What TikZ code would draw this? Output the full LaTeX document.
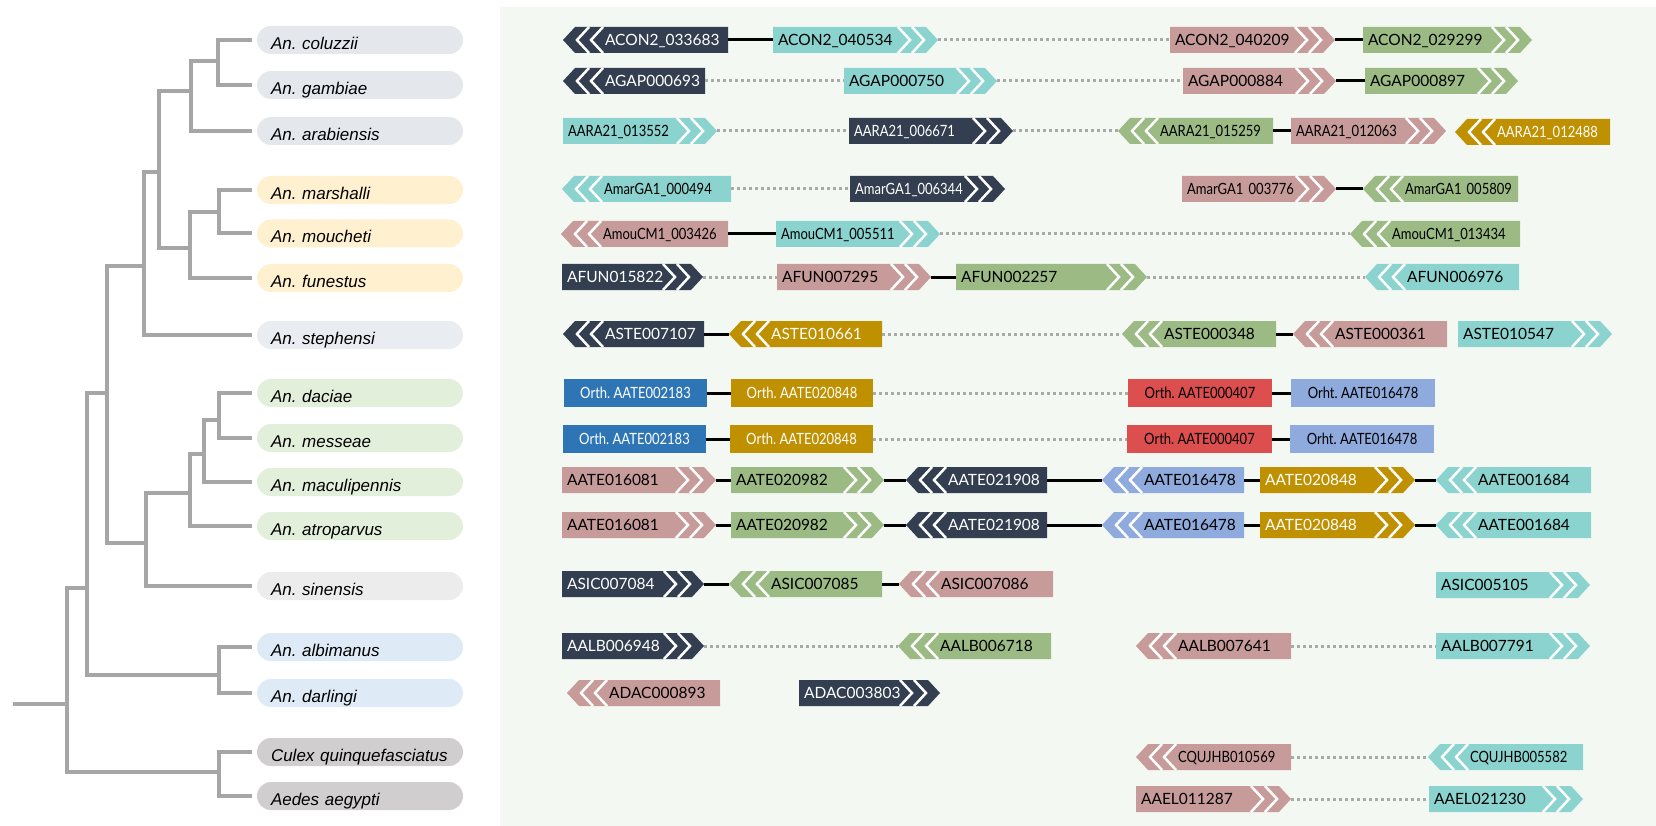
\documentclass[tikz,border=0pt]{standalone}
\usepackage{fontspec}
\setmainfont{Liberation Sans}
\newfontfamily\genefont{Lato}
\newfontfamily\genetight{Lato}[FakeStretch=0.84]
\definecolor{slate}{RGB}{51,63,80}
\definecolor{aqua}{RGB}{139,211,207}
\definecolor{rose}{RGB}{200,155,155}
\definecolor{sage}{RGB}{156,187,132}
\definecolor{mustard}{RGB}{191,144,0}
\definecolor{cobalt}{RGB}{46,117,182}
\definecolor{scarlet}{RGB}{221,78,78}
\definecolor{lilac}{RGB}{143,170,220}
\definecolor{treegray}{RGB}{166,166,166}
\definecolor{dotgray}{RGB}{170,170,170}
\definecolor{panel}{RGB}{244,248,243}
\definecolor{gambgrp}{RGB}{228,232,237}
\definecolor{stepgrp}{RGB}{233,236,241}
\definecolor{funegrp}{RGB}{255,241,207}
\definecolor{macugrp}{RGB}{226,239,218}
\definecolor{sinegrp}{RGB}{236,236,236}
\definecolor{nyssgrp}{RGB}{222,234,246}
\definecolor{culigrp}{RGB}{208,206,207}
\tikzset{
  branch/.style={draw=treegray,line width=4pt},
  tie/.style={draw=black,line width=3pt},
  gap/.style={draw=dotgray,line width=3pt,dash pattern=on 3pt off 3pt},
  chev/.style={draw=white,line width=2.5pt},
  genelab/.style={inner xsep=5pt,inner ysep=0pt,minimum height=26pt,
    text height=11.4pt,text depth=0pt,align=left,
    font=\genefont\fontsize{15.5}{15.5}\selectfont},
  tight/.style={font=\genetight\fontsize{15.5}{15.5}\selectfont},
  on slate/.style={text=white},
  on mustard/.style={text=white},
  on cobalt/.style={text=white},
  on aqua/.style={text=black},
  on rose/.style={text=black},
  on sage/.style={text=black},
  on scarlet/.style={text=black},
  on lilac/.style={text=black},
  species/.style={fill=#1,rounded corners=14pt,minimum height=28pt,
    text width=178pt,inner xsep=14pt,inner ysep=0pt,text height=19pt,
    text depth=0pt,align=left,font=\itshape\fontsize{17}{17}\selectfont},
}
% gene pointing right: [opts]{name}{x0}{x1}{y}{colour}{id}
\newcommand{\fgene}[7][]{%
  \fill[#6] (#3,#5-13) -- (#4-12,#5-13) -- (#4,#5) -- (#4-12,#5+13) -- (#3,#5+13) -- cycle;
  \draw[chev] (#4-26,#5-13) -- (#4-14,#5) -- (#4-26,#5+13);
  \draw[chev] (#4-40,#5-13) -- (#4-28,#5) -- (#4-40,#5+13);
  \pgfmathsetmacro\gw{#4-#3}\pgfmathsetmacro\tw{#4-#3-10}
  \node[genelab,on #6,minimum width=\gw pt,text width=\tw pt,#1] (#2) at ({(#3+#4)/2},#5) {#7};
}
% gene pointing left
\newcommand{\rgene}[7][]{%
  \fill[#6] (#4,#5-13) -- (#3+12,#5-13) -- (#3,#5) -- (#3+12,#5+13) -- (#4,#5+13) -- cycle;
  \draw[chev] (#3+26,#5-13) -- (#3+14,#5) -- (#3+26,#5+13);
  \draw[chev] (#3+40,#5-13) -- (#3+28,#5) -- (#3+40,#5+13);
  \pgfmathsetmacro\gw{#4-#3}\pgfmathsetmacro\tw{#4-#3-10}
  \node[genelab,on #6,minimum width=\gw pt,text width=\tw pt,#1] (#2) at ({(#3+#4)/2},#5) {\hspace*{37pt}#7};
}
% orthologue box
\newcommand{\bgene}[6]{%
  \pgfmathsetmacro\gw{#3-#2}
  \node[genelab,tight,fill=#5,on #5,minimum width=\gw pt,minimum height=28pt,align=center] (#1) at ({(#2+#3)/2},#4) {#6};
}
\frenchspacing

\begin{document}
\begin{tikzpicture}[x=1pt,y=-1pt]
  \useasboundingbox (0,0) rectangle (1656,826);
  \fill[panel] (500,7) rectangle (1656,826);

  % species
  \node[species=gambgrp] (coluzzii) at (360,40) {An. coluzzii};
  \node[species=gambgrp] (gambiae) at (360,85) {An. gambiae};
  \node[species=gambgrp] (arabiensis) at (360,131) {An. arabiensis};
  \node[species=funegrp] (marshalli) at (360,190) {An. marshalli};
  \node[species=funegrp] (moucheti) at (360,233.5) {An. moucheti};
  \node[species=funegrp] (funestus) at (360,278) {An. funestus};
  \node[species=stepgrp] (stephensi) at (360,335) {An. stephensi};
  \node[species=macugrp] (daciae) at (360,393) {An. daciae};
  \node[species=macugrp] (messeae) at (360,438) {An. messeae};
  \node[species=macugrp] (maculipennis) at (360,482) {An. maculipennis};
  \node[species=macugrp] (atroparvus) at (360,526) {An. atroparvus};
  \node[species=sinegrp] (sinensis) at (360,586) {An. sinensis};
  \node[species=nyssgrp] (albimanus) at (360,647) {An. albimanus};
  \node[species=nyssgrp] (darlingi) at (360,693) {An. darlingi};
  \node[species=culigrp] (culex) at (360,752) {Culex quinquefasciatus};
  \node[species=culigrp] (aedes) at (360,796) {Aedes aegypti};

  % tree
  \coordinate (nCG) at (218,61);
  \coordinate (nGam) at (191,91);
  \coordinate (nMM) at (219,212);
  \coordinate (nFun) at (190,248);
  \coordinate (nGF) at (159,172);
  \coordinate (nStep) at (144,266);
  \coordinate (nDM) at (219,420);
  \coordinate (nMac1) at (204,454);
  \coordinate (nMac2) at (190,493);
  \coordinate (nSin) at (146,543);
  \coordinate (nCel) at (107,393);
  \coordinate (nNyss) at (219,675);
  \coordinate (nAnoph) at (87,588);
  \coordinate (nCul) at (219,772);
  \coordinate (root) at (67,704);
  \coordinate (stem) at (13,704);
  \draw[branch] (nCG) |- ([xshift=-5pt]coluzzii.west) (nCG) |- ([xshift=-5pt]gambiae.west);
  \draw[branch] (nGam) |- (nCG) (nGam) |- ([xshift=-5pt]arabiensis.west);
  \draw[branch] (nMM) |- ([xshift=-5pt]marshalli.west) (nMM) |- ([xshift=-5pt]moucheti.west);
  \draw[branch] (nFun) |- (nMM) (nFun) |- ([xshift=-5pt]funestus.west);
  \draw[branch] (nGF) |- (nGam) (nGF) |- (nFun);
  \draw[branch] (nStep) |- (nGF) (nStep) |- ([xshift=-5pt]stephensi.west);
  \draw[branch] (nDM) |- ([xshift=-5pt]daciae.west) (nDM) |- ([xshift=-5pt]messeae.west);
  \draw[branch] (nMac1) |- (nDM) (nMac1) |- ([xshift=-5pt]maculipennis.west);
  \draw[branch] (nMac2) |- (nMac1) (nMac2) |- ([xshift=-5pt]atroparvus.west);
  \draw[branch] (nSin) |- (nMac2) (nSin) |- ([xshift=-5pt]sinensis.west);
  \draw[branch] (nCel) |- (nStep) (nCel) |- (nSin);
  \draw[branch] (nNyss) |- ([xshift=-5pt]albimanus.west) (nNyss) |- ([xshift=-5pt]darlingi.west);
  \draw[branch] (nAnoph) |- (nCel) (nAnoph) |- (nNyss);
  \draw[branch] (nCul) |- ([xshift=-5pt]culex.west) (nCul) |- ([xshift=-5pt]aedes.west);
  \draw[branch] (root) |- (nAnoph) (root) |- (nCul);
  \draw[branch] (stem) -- (root);

  % An. coluzzii
  \rgene{con1}{563}{728}{40}{slate}{ACON2\_033683}
  \fgene{con2}{773}{938}{40}{aqua}{ACON2\_040534}
  \fgene{con3}{1170}{1335}{40}{rose}{ACON2\_040209}
  \fgene{con4}{1363}{1532}{40}{sage}{ACON2\_029299}
  \draw[tie] (con1) -- (con2);
  \draw[gap] (con2) -- (con3);
  \draw[tie] (con3) -- (con4);
  % An. gambiae
  \rgene{gam1}{563}{705}{81}{slate}{AGAP000693}
  \fgene{gam2}{844}{997}{81}{aqua}{AGAP000750}
  \fgene{gam3}{1183}{1336}{81}{rose}{AGAP000884}
  \fgene{gam4}{1365}{1518}{81}{sage}{AGAP000897}
  \draw[gap] (gam1) -- (gam2);
  \draw[gap] (gam2) -- (gam3);
  \draw[tie] (gam3) -- (gam4);
  % An. arabiensis
  \fgene[tight]{ara1}{563}{717}{131}{aqua}{AARA21\_013552}
  \fgene[tight]{ara2}{849}{1013}{131}{slate}{AARA21\_006671}
  \rgene[tight]{ara3}{1118}{1273}{131}{sage}{AARA21\_015259}
  \fgene[tight]{ara4}{1291}{1446}{131}{rose}{AARA21\_012063}
  \rgene[tight]{ara5}{1455}{1610}{132}{mustard}{AARA21\_012488}
  \draw[gap] (ara1) -- (ara2);
  \draw[gap] (ara2) -- (ara3);
  \draw[tie] (ara3) -- (ara4);
  % An. marshalli
  \rgene[tight]{mar1}{562}{731}{189}{aqua}{AmarGA1\_000494}
  \fgene[tight]{mar2}{850}{1005}{189}{slate}{AmarGA1\_006344}
  \fgene[tight]{mar3}{1182}{1336}{189}{rose}{AmarGA1 003776}
  \rgene[tight]{mar4}{1363}{1518}{189}{sage}{AmarGA1 005809}
  \draw[gap] (mar1) -- (mar2);
  \draw[tie] (mar3) -- (mar4);
  % An. moucheti
  \rgene[tight]{mou1}{561}{728}{234}{rose}{AmouCM1\_003426}
  \fgene[tight]{mou2}{776}{940}{234}{aqua}{AmouCM1\_005511}
  \rgene[tight]{mou3}{1350}{1520}{234}{sage}{AmouCM1\_013434}
  \draw[tie] (mou1) -- (mou2);
  \draw[gap] (mou2) -- (mou3);
  % An. funestus
  \fgene{fun1}{562}{703}{277}{slate}{AFUN015822}
  \fgene{fun2}{777}{931}{277}{rose}{AFUN007295}
  \fgene{fun3}{956}{1147}{277}{sage}{AFUN002257}
  \rgene{fun4}{1365}{1519}{277}{aqua}{AFUN006976}
  \draw[gap] (fun1) -- (fun2);
  \draw[tie] (fun2) -- (fun3);
  \draw[gap] (fun3) -- (fun4);
  % An. stephensi
  \rgene{ste1}{563}{704}{334}{slate}{ASTE007107}
  \rgene{ste2}{729}{882}{334}{mustard}{ASTE010661}
  \rgene{ste3}{1122}{1276}{334}{sage}{ASTE000348}
  \rgene{ste4}{1293}{1447}{334}{rose}{ASTE000361}
  \fgene{ste5}{1458}{1612}{334}{aqua}{ASTE010547}
  \draw[tie] (ste1) -- (ste2);
  \draw[gap] (ste2) -- (ste3);
  \draw[tie] (ste3) -- (ste4);
  % An. daciae
  \bgene{dac1}{564}{707}{393}{cobalt}{Orth. AATE002183}
  \bgene{dac2}{731}{873}{393}{mustard}{Orth. AATE020848}
  \bgene{dac3}{1128}{1272}{393}{scarlet}{Orth. AATE000407}
  \bgene{dac4}{1291}{1435}{393}{lilac}{Orht. AATE016478}
  \draw[tie] (dac1) -- (dac2);
  \draw[gap] (dac2) -- (dac3);
  \draw[tie] (dac3) -- (dac4);
  % An. messeae
  \bgene{mes1}{563}{706}{439}{cobalt}{Orth. AATE002183}
  \bgene{mes2}{730}{873}{439}{mustard}{Orth. AATE020848}
  \bgene{mes3}{1127}{1272}{439}{scarlet}{Orth. AATE000407}
  \bgene{mes4}{1290}{1434}{439}{lilac}{Orht. AATE016478}
  \draw[tie] (mes1) -- (mes2);
  \draw[gap] (mes2) -- (mes3);
  \draw[tie] (mes3) -- (mes4);
  % An. maculipennis
  \fgene{mac1}{562}{716}{480}{rose}{AATE016081}
  \fgene{mac2}{731}{884}{480}{sage}{AATE020982}
  \rgene{mac3}{906}{1047}{480}{slate}{AATE021908}
  \rgene{mac4}{1102}{1244}{480}{lilac}{AATE016478}
  \fgene{mac5}{1260}{1415}{480}{mustard}{AATE020848}
  \rgene{mac6}{1436}{1591}{480}{aqua}{AATE001684}
  \draw[tie] (mac1) -- (mac2);
  \draw[tie] (mac2) -- (mac3);
  \draw[tie] (mac3) -- (mac4);
  \draw[tie] (mac4) -- (mac5);
  \draw[tie] (mac5) -- (mac6);
  % An. atroparvus
  \fgene{atr1}{562}{716}{525}{rose}{AATE016081}
  \fgene{atr2}{731}{884}{525}{sage}{AATE020982}
  \rgene{atr3}{906}{1047}{525}{slate}{AATE021908}
  \rgene{atr4}{1102}{1244}{525}{lilac}{AATE016478}
  \fgene{atr5}{1260}{1415}{525}{mustard}{AATE020848}
  \rgene{atr6}{1436}{1591}{525}{aqua}{AATE001684}
  \draw[tie] (atr1) -- (atr2);
  \draw[tie] (atr2) -- (atr3);
  \draw[tie] (atr3) -- (atr4);
  \draw[tie] (atr4) -- (atr5);
  \draw[tie] (atr5) -- (atr6);
  % An. sinensis
  \fgene{sin1}{562}{704}{584}{slate}{ASIC007084}
  \rgene{sin2}{729}{882}{584}{sage}{ASIC007085}
  \rgene{sin3}{899}{1053}{584}{rose}{ASIC007086}
  \fgene{sin4}{1436}{1590}{585}{aqua}{ASIC005105}
  \draw[tie] (sin1) -- (sin2);
  \draw[tie] (sin2) -- (sin3);
  % An. albimanus
  \fgene{alb1}{562}{704}{646}{slate}{AALB006948}
  \rgene{alb2}{898}{1051}{646}{sage}{AALB006718}
  \rgene{alb3}{1136}{1291}{646}{rose}{AALB007641}
  \fgene{alb4}{1436}{1590}{646}{aqua}{AALB007791}
  \draw[gap] (alb1) -- (alb2);
  \draw[gap] (alb3) -- (alb4);
  % An. darlingi
  \rgene{dar1}{567}{720}{693}{rose}{ADAC000893}
  \fgene{dar2}{799}{940}{693}{slate}{ADAC003803}
  % Culex
  \rgene[tight]{cul1}{1136}{1291}{757}{rose}{CQUJHB010569}
  \rgene[tight]{cul2}{1428}{1583}{757}{aqua}{CQUJHB005582}
  \draw[gap] (cul1) -- (cul2);
  % Aedes
  \fgene{aed1}{1136}{1291}{799}{rose}{AAEL011287}
  \fgene{aed2}{1429}{1583}{799}{aqua}{AAEL021230}
  \draw[gap] (aed1) -- (aed2);
\end{tikzpicture}
\end{document}
